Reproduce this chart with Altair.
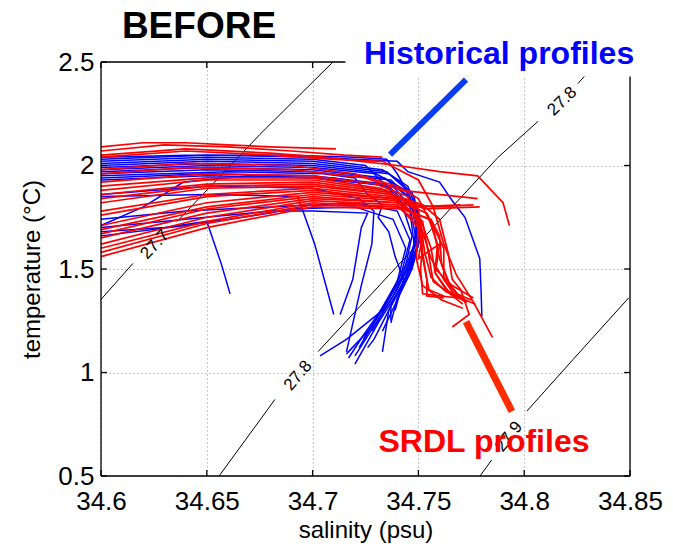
import altair as alt
import pandas as pd

FONT = "Liberation Sans"

# axis ranges and tick values
S_MIN, S_MAX = 34.6, 34.85
T_MIN, T_MAX = 0.5, 2.5
x_ticks = [34.6, 34.65, 34.7, 34.75, 34.8, 34.85]
y_ticks = [0.5, 1.0, 1.5, 2.0, 2.5]

# historical CTD profiles: (salinity, temperature) vertices
historical_profiles = [
    [(34.600, 2.04), (34.640, 2.05), (34.690, 2.05), (34.720, 2.04), (34.735, 2.03), (34.740, 1.96), (34.746, 1.85), (34.749, 1.70), (34.747, 1.56), (34.740, 1.40), (34.730, 1.24), (34.720, 1.08)],
    [(34.600, 2.03), (34.650, 2.05), (34.700, 2.04), (34.740, 2.02), (34.745, 1.97), (34.760, 1.92), (34.766, 1.83), (34.772, 1.75), (34.779, 1.55), (34.7796, 1.40), (34.780, 1.27)],
    [(34.600, 2.02), (34.650, 2.04), (34.700, 2.03), (34.725, 2.00), (34.733, 1.92), (34.742, 1.82), (34.747, 1.66), (34.744, 1.52), (34.737, 1.38), (34.728, 1.22), (34.716, 1.09)],
    [(34.600, 2.01), (34.650, 2.03), (34.700, 2.02), (34.733, 1.98), (34.745, 1.90), (34.750, 1.76), (34.750, 1.62), (34.746, 1.48), (34.740, 1.35), (34.733, 1.20)],
    [(34.600, 2.00), (34.650, 2.02), (34.700, 2.01), (34.735, 1.97), (34.747, 1.87), (34.751, 1.72), (34.749, 1.58), (34.743, 1.44), (34.736, 1.30), (34.733, 1.10)],
    [(34.600, 1.99), (34.650, 2.01), (34.700, 2.00), (34.736, 1.96), (34.748, 1.85), (34.751, 1.69), (34.748, 1.54), (34.741, 1.40), (34.731, 1.24), (34.720, 1.04)],
    [(34.600, 1.98), (34.650, 2.00), (34.700, 1.99), (34.730, 1.96), (34.744, 1.88), (34.749, 1.74), (34.749, 1.60), (34.744, 1.46), (34.737, 1.32), (34.737, 1.25)],
    [(34.600, 1.97), (34.650, 1.99), (34.700, 1.98), (34.734, 1.94), (34.746, 1.84), (34.750, 1.68), (34.746, 1.52), (34.738, 1.37), (34.728, 1.20)],
    [(34.600, 1.96), (34.650, 1.98), (34.700, 1.97), (34.737, 1.93), (34.748, 1.82), (34.751, 1.66), (34.747, 1.50), (34.739, 1.36), (34.729, 1.16), (34.726, 1.12)],
    [(34.600, 1.95), (34.660, 1.97), (34.705, 1.96), (34.720, 1.94), (34.726, 1.86), (34.733, 1.81), (34.731, 1.75), (34.736, 1.68), (34.739, 1.56), (34.743, 1.45), (34.739, 1.30)],
    [(34.600, 1.94), (34.650, 1.96), (34.700, 1.95), (34.735, 1.91), (34.746, 1.80), (34.749, 1.64), (34.744, 1.49), (34.735, 1.34), (34.724, 1.18), (34.717, 1.07)],
    [(34.600, 1.93), (34.650, 1.95), (34.700, 1.94), (34.738, 1.90), (34.748, 1.78), (34.750, 1.62), (34.746, 1.48), (34.740, 1.36), (34.737, 1.24)],
    [(34.600, 1.86), (34.650, 1.90), (34.700, 1.89), (34.722, 1.84), (34.729, 1.78), (34.728, 1.62), (34.723, 1.42), (34.716, 1.10)],
    [(34.600, 1.85), (34.650, 1.86), (34.693, 1.85), (34.701, 1.62), (34.710, 1.28)],
    [(34.600, 1.70), (34.640, 1.74), (34.680, 1.78), (34.700, 1.78), (34.726, 1.77), (34.723, 1.70), (34.719, 1.45), (34.713, 1.28)],
    [(34.600, 1.74), (34.640, 1.78), (34.680, 1.80), (34.720, 1.82), (34.740, 1.78), (34.746, 1.64), (34.742, 1.48), (34.734, 1.32), (34.724, 1.16)],
    [(34.600, 1.68), (34.630, 1.70), (34.650, 1.73), (34.653, 1.64), (34.657, 1.52), (34.661, 1.38)],
    [(34.600, 1.66), (34.640, 1.71), (34.680, 1.77), (34.689, 1.79), (34.720, 1.80), (34.738, 1.74), (34.744, 1.60), (34.740, 1.44), (34.731, 1.28), (34.722, 1.12)],
    [(34.600, 1.71), (34.620, 1.80), (34.639, 1.92), (34.670, 1.95), (34.710, 1.94), (34.735, 1.90), (34.746, 1.78), (34.748, 1.62), (34.742, 1.46), (34.733, 1.30), (34.716, 1.16), (34.7035, 1.08)],
]

# SRDL (seal tag) profiles: (salinity, temperature) vertices
srdl_profiles = [
    [(34.600, 2.09), (34.620, 2.11), (34.640, 2.11), (34.660, 2.10), (34.680, 2.09), (34.711, 2.08)],
    [(34.600, 2.07), (34.630, 2.10), (34.660, 2.09), (34.690, 2.07), (34.715, 2.05), (34.733, 2.04)],
    [(34.600, 2.05), (34.640, 2.08), (34.680, 2.06), (34.705, 2.04), (34.740, 2.00), (34.760, 1.97), (34.778, 1.95), (34.790, 1.82), (34.793, 1.71)],
    [(34.600, 2.04), (34.640, 2.07), (34.680, 2.05), (34.710, 2.03), (34.733, 2.02), (34.750, 1.93), (34.757, 1.80), (34.762, 1.62), (34.768, 1.47), (34.776, 1.34), (34.785, 1.17)],
    [(34.600, 1.98), (34.640, 2.01), (34.690, 2.00), (34.720, 1.96), (34.740, 1.90), (34.750, 1.84), (34.757, 1.70), (34.760, 1.55), (34.765, 1.42), (34.772, 1.34)],
    [(34.600, 1.96), (34.640, 1.99), (34.690, 1.98), (34.725, 1.94), (34.742, 1.88), (34.778, 1.84)],
    [(34.600, 1.92), (34.650, 1.96), (34.700, 1.95), (34.730, 1.91), (34.745, 1.85), (34.750, 1.74), (34.752, 1.58), (34.754, 1.45), (34.754, 1.37), (34.762, 1.36)],
    [(34.600, 1.90), (34.650, 1.94), (34.700, 1.94), (34.732, 1.89), (34.747, 1.82), (34.752, 1.68), (34.756, 1.55), (34.762, 1.45), (34.768, 1.36)],
    [(34.600, 1.88), (34.650, 1.93), (34.700, 1.93), (34.735, 1.88), (34.748, 1.80), (34.770, 1.81)],
    [(34.600, 1.86), (34.650, 1.91), (34.700, 1.92), (34.736, 1.87), (34.750, 1.79), (34.752, 1.66), (34.750, 1.55), (34.757, 1.60), (34.760, 1.62), (34.758, 1.48), (34.765, 1.38), (34.771, 1.33)],
    [(34.600, 1.84), (34.650, 1.90), (34.700, 1.91), (34.737, 1.86), (34.749, 1.76), (34.752, 1.62), (34.751, 1.50), (34.752, 1.38), (34.760, 1.37), (34.769, 1.36)],
    [(34.600, 1.82), (34.650, 1.89), (34.700, 1.90), (34.738, 1.86), (34.752, 1.81), (34.760, 1.74), (34.764, 1.58), (34.766, 1.45), (34.770, 1.40), (34.774, 1.28), (34.766, 1.22)],
    [(34.600, 1.78), (34.650, 1.86), (34.700, 1.89), (34.738, 1.85), (34.753, 1.79), (34.779, 1.80)],
    [(34.600, 1.76), (34.650, 1.85), (34.700, 1.88), (34.739, 1.84), (34.751, 1.74), (34.756, 1.60), (34.758, 1.48), (34.763, 1.40), (34.770, 1.36), (34.777, 1.33)],
    [(34.600, 1.71), (34.650, 1.82), (34.700, 1.87), (34.738, 1.84), (34.749, 1.75), (34.751, 1.62), (34.753, 1.50), (34.755, 1.40), (34.762, 1.37)],
    [(34.600, 1.69), (34.650, 1.80), (34.700, 1.86), (34.740, 1.83), (34.754, 1.77), (34.762, 1.60), (34.762, 1.45), (34.768, 1.38), (34.775, 1.35)],
    [(34.600, 1.67), (34.650, 1.79), (34.700, 1.85), (34.740, 1.82), (34.752, 1.73), (34.755, 1.56), (34.757, 1.44), (34.765, 1.38), (34.773, 1.34)],
    [(34.600, 1.65), (34.650, 1.77), (34.700, 1.84), (34.741, 1.82), (34.757, 1.80), (34.776, 1.81)],
    [(34.600, 1.62), (34.650, 1.75), (34.700, 1.83), (34.740, 1.81), (34.750, 1.70), (34.749, 1.55), (34.752, 1.42), (34.761, 1.35), (34.771, 1.31)],
    [(34.600, 1.60), (34.650, 1.73), (34.700, 1.82), (34.741, 1.80), (34.755, 1.74), (34.759, 1.62), (34.758, 1.50), (34.766, 1.42), (34.776, 1.36)],
    [(34.600, 1.58), (34.650, 1.72), (34.700, 1.81), (34.740, 1.80), (34.751, 1.72), (34.753, 1.58), (34.756, 1.46), (34.763, 1.39), (34.770, 1.37)],
    [(34.600, 1.56), (34.650, 1.70), (34.700, 1.80), (34.742, 1.79), (34.756, 1.74), (34.760, 1.66), (34.761, 1.52), (34.764, 1.44), (34.769, 1.37)],
]

# potential-density isopycnals, split where their labels sit
isopycnal_segments = [
    [(34.600, 1.353), (34.6151, 1.527)],
    [(34.6359, 1.729), (34.6751, 2.150), (34.7096, 2.500)],
    [(34.6558, 0.500), (34.6751, 0.770), (34.6822, 0.870)],
    [(34.7026, 1.101), (34.7876, 2.039), (34.8065, 2.213)],
    [(34.8254, 2.396), (34.8344, 2.500)],
    [(34.7791, 0.500), (34.7846, 0.577)],
    [(34.8013, 0.814), (34.8231, 1.063), (34.8495, 1.362)],
]
isopycnal_labels = ["27.7", "27.8", "27.8", "27.9"]
isopycnal_label_S = [34.6255, 34.6931, 34.8180, 34.7928]
isopycnal_label_T = [1.618, 0.985, 2.310, 0.690]
isopycnal_label_angle = [313, 310, 316, 308]

# callout pointers and their labels
historical_pointer = [(34.7366, 2.053), (34.7725, 2.415)]
srdl_pointer = [(34.7725, 1.246), (34.7942, 0.812)]
callout_text = ["Historical profiles", "SRDL profiles"]
callout_S = [34.7881, 34.7810]
callout_T = [2.488, 0.618]
callout_color = ["#0000ff", "#ff0000"]
heading = "BEFORE"
heading_S, heading_T = 34.6463, 2.618

# white panel behind the "Historical profiles" callout
callout_box = dict(S=34.7155, S2=34.875, T=2.43, T2=2.75)

TICK_S = 0.0028   # inward tick length in salinity units
TICK_T = 0.029    # inward tick length in temperature units


def lines_frame(segments, color):
    rows = []
    for k, seg in enumerate(segments):
        for i, (s, t) in enumerate(seg):
            rows.append({"id": f"{color}-{k}", "i": i, "S": s, "T": t, "col": color})
    return pd.DataFrame(rows)


xs = alt.Scale(domain=[S_MIN, S_MAX], nice=False, zero=False)
ys = alt.Scale(domain=[T_MIN, T_MAX], nice=False, zero=False)

x_axis = alt.Axis(
    values=x_ticks, format="~g", grid=True, gridDash=[1, 3], gridColor="#8c8c8c",
    gridWidth=1, domain=False, ticks=False, labelFont=FONT, labelFontSize=26,
    labelColor="black", labelPadding=12, labelFlush=False, labelOverlap=False,
    title="salinity (psu)", titleFont=FONT, titleFontSize=24, titleFontWeight="normal",
    titleColor="black", titleY=61, titleBaseline="alphabetic",
)
y_axis = alt.Axis(
    values=y_ticks, format="~g", grid=True, gridDash=[1, 3], gridColor="#8c8c8c",
    gridWidth=1, domain=False, ticks=False, labelFont=FONT, labelFontSize=26,
    labelColor="black", labelPadding=7, labelFlush=False, labelOverlap=False,
    title="temperature (°C)", titleFont=FONT, titleFontSize=24, titleFontWeight="normal",
    titleColor="black", titleX=-62, titleY=207, titleBaseline="alphabetic",
)

X = alt.X("S:Q", scale=xs, axis=x_axis)
Y = alt.Y("T:Q", scale=ys, axis=y_axis)


def polyline(df, width, cap="butt"):
    return alt.Chart(df).mark_line(strokeWidth=width, strokeCap=cap, clip=False).encode(
        x=X, y=Y, detail="id:N", order="i:Q", color=alt.Color("col:N", scale=None)
    )


contours = polyline(lines_frame(isopycnal_segments, "black"), 1.0)
hist = polyline(lines_frame(historical_profiles, "#0000ff"), 1.5)
srdl = polyline(lines_frame(srdl_profiles, "#ff0000"), 1.7)

# plot frame and inward ticks
frame_rows = [
    {"S": S_MIN, "T": T_MIN, "S2": S_MAX, "T2": T_MIN},
    {"S": S_MIN, "T": T_MAX, "S2": S_MAX, "T2": T_MAX},
    {"S": S_MIN, "T": T_MIN, "S2": S_MIN, "T2": T_MAX},
    {"S": S_MAX, "T": T_MIN, "S2": S_MAX, "T2": T_MAX},
]
for v in x_ticks:
    frame_rows.append({"S": v, "T": T_MIN, "S2": v, "T2": T_MIN + TICK_T})
    frame_rows.append({"S": v, "T": T_MAX, "S2": v, "T2": T_MAX - TICK_T})
for v in y_ticks:
    frame_rows.append({"S": S_MIN, "T": v, "S2": S_MIN + TICK_S, "T2": v})
    frame_rows.append({"S": S_MAX, "T": v, "S2": S_MAX - TICK_S, "T2": v})
frame = alt.Chart(pd.DataFrame(frame_rows)).mark_rule(color="black", strokeWidth=1.3).encode(
    x=X, y=Y, x2="S2:Q", y2="T2:Q"
)

box = alt.Chart(pd.DataFrame([callout_box])).mark_rect(fill="white", clip=False).encode(
    x=X, y=Y, x2="S2:Q", y2="T2:Q"
)

pointer_hist = polyline(lines_frame([historical_pointer], "#0a3cf5"), 6)
pointer_srdl = polyline(lines_frame([srdl_pointer], "#ff2a00"), 7)

label_df = pd.DataFrame({
    "S": isopycnal_label_S, "T": isopycnal_label_T,
    "txt": isopycnal_labels, "ang": isopycnal_label_angle,
})
iso_text = alt.Chart(label_df).mark_text(
    font=FONT, fontSize=17, color="black", align="center", baseline="middle"
).encode(x=X, y=Y, text="txt:N", angle=alt.Angle("ang:Q", scale=None))

callout_df = pd.DataFrame({"S": callout_S, "T": callout_T, "txt": callout_text, "col": callout_color})
callouts = alt.Chart(callout_df).mark_text(
    font=FONT, fontSize=32, fontWeight="bold", align="center", baseline="alphabetic"
).encode(x=X, y=Y, text="txt:N", color=alt.Color("col:N", scale=None))

heading_df = pd.DataFrame({"S": [heading_S], "T": [heading_T], "txt": [heading]})
heading_text = alt.Chart(heading_df).mark_text(
    font=FONT, fontSize=37, fontWeight="bold", color="black", align="center", baseline="alphabetic"
).encode(x=X, y=Y, text="txt:N")

chart = alt.layer(
    contours, hist, srdl, frame, box, pointer_hist, pointer_srdl,
    iso_text, callouts, heading_text,
).properties(
    width=529, height=414,
    padding={"left": 101, "top": 62, "right": 43, "bottom": 76},
    autosize=alt.AutoSizeParams(type="none"),
    background="white",
).configure_view(stroke=None)

chart.save("out.html", embed_options={"renderer": "svg", "actions": False})
